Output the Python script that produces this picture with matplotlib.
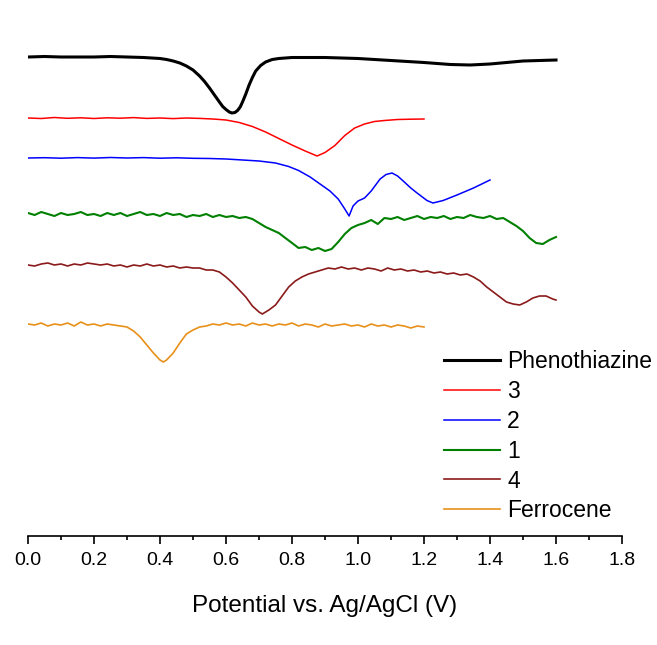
import numpy as np
import matplotlib
matplotlib.use("Agg")
import matplotlib.pyplot as plt

plt.rcParams['font.family'] = ['Liberation Sans', 'DejaVu Sans']

# ---------------- data (offset currents, arbitrary units) ----------------
pheno_v = [0.00, 0.05, 0.10, 0.15, 0.20, 0.25, 0.30, 0.35, 0.40, 0.42, 0.44, 0.46, 0.48, 0.50,
           0.52, 0.535, 0.55, 0.565, 0.58, 0.59, 0.60, 0.61, 0.618, 0.627, 0.635, 0.643, 0.65,
           0.66, 0.67, 0.68, 0.69, 0.705, 0.72, 0.74, 0.76, 0.80, 0.90, 1.00, 1.10,
           1.20, 1.28, 1.34, 1.40, 1.45, 1.50, 1.55, 1.60]
pheno_i = [-5.7, -5.65, -5.7, -5.7, -5.7, -5.65, -5.7, -5.75, -5.85, -5.95, -6.1, -6.3, -6.6, -7.0,
           -7.6, -8.15, -8.8, -9.5, -10.2, -10.65, -10.95, -11.2, -11.3, -11.25, -11.05, -10.7, -10.2,
           -9.4, -8.5, -7.75, -7.1, -6.55, -6.2, -5.95, -5.85, -5.75, -5.75, -5.85, -6.05,
           -6.25, -6.45, -6.5, -6.4, -6.25, -6.1, -6.05, -6.0]

c3_v = [0.00, 0.04, 0.08, 0.12, 0.16, 0.20, 0.24, 0.28, 0.32, 0.36, 0.40, 0.44, 0.48, 0.52,
        0.56, 0.60, 0.64, 0.68, 0.72, 0.76, 0.80, 0.84, 0.876, 0.90, 0.93, 0.96, 0.99, 1.02,
        1.05, 1.08, 1.12, 1.16, 1.20]
c3_i = [-11.8, -11.85, -11.75, -11.83, -11.78, -11.85, -11.78, -11.82, -11.76, -11.84, -11.8,
        -11.86, -11.8, -11.84, -11.9, -12.0, -12.25, -12.65, -13.2, -13.85, -14.5, -15.1, -15.6,
        -15.25, -14.55, -13.55, -12.8, -12.4, -12.15, -12.05, -11.95, -11.92, -11.9]

c2_v = [0.00, 0.05, 0.10, 0.15, 0.20, 0.25, 0.30, 0.35, 0.40, 0.45, 0.50, 0.55, 0.60, 0.65,
        0.70, 0.75, 0.79, 0.82, 0.855, 0.885, 0.915, 0.94, 0.96, 0.973, 0.985, 1.00, 1.02,
        1.04, 1.067, 1.085, 1.103, 1.12, 1.137, 1.16, 1.179, 1.209, 1.227, 1.258, 1.30, 1.35, 1.40]
c2_i = [-15.8, -15.77, -15.82, -15.76, -15.81, -15.75, -15.8, -15.76, -15.82, -15.78, -15.83,
        -15.85, -15.9, -16.0, -16.1, -16.3, -16.65, -17.05, -17.7, -18.4, -19.1, -19.9, -20.9,
        -21.6, -20.6, -20.1, -19.8, -19.1, -17.9, -17.45, -17.3, -17.6, -18.1, -18.8, -19.3,
        -20.05, -20.3, -20.05, -19.5, -18.8, -18.0]

c1_v = [0.00, 0.02, 0.04, 0.06, 0.08, 0.10, 0.12, 0.14, 0.16, 0.18, 0.20, 0.22, 0.24, 0.26,
        0.28, 0.30, 0.32, 0.34, 0.36, 0.38, 0.40, 0.42, 0.44, 0.46, 0.48, 0.50, 0.52, 0.54,
        0.56, 0.58, 0.60, 0.62, 0.64, 0.66, 0.68, 0.70, 0.72, 0.74, 0.76, 0.78, 0.80, 0.82,
        0.84, 0.86, 0.88, 0.90, 0.92, 0.94, 0.96, 0.98, 1.00, 1.02, 1.04, 1.06, 1.08, 1.10,
        1.12, 1.14, 1.16, 1.18, 1.20, 1.22, 1.24, 1.26, 1.28, 1.30, 1.32, 1.34, 1.36, 1.38,
        1.40, 1.42, 1.44, 1.46, 1.48, 1.50, 1.52, 1.54, 1.56, 1.58, 1.60]
c1_i = [-21.3, -21.5, -21.2, -21.4, -21.6, -21.3, -21.5, -21.4, -21.2, -21.5, -21.4, -21.6,
        -21.3, -21.5, -21.3, -21.6, -21.4, -21.2, -21.5, -21.4, -21.6, -21.3, -21.5, -21.4,
        -21.7, -21.5, -21.6, -21.4, -21.7, -21.5, -21.7, -21.6, -21.8, -21.7, -21.9, -22.3,
        -22.7, -23.0, -23.3, -23.8, -24.3, -24.8, -24.7, -25.0, -24.8, -25.1, -24.9, -24.2,
        -23.4, -22.8, -22.5, -22.3, -22.0, -22.4, -21.8, -21.9, -21.7, -22.0, -21.8, -21.6,
        -21.9, -21.7, -21.8, -21.6, -21.9, -21.7, -21.8, -21.5, -21.7, -21.8, -21.6, -21.9,
        -21.8, -22.2, -22.6, -23.1, -23.8, -24.3, -24.4, -24.0, -23.7]

c4_v = [0.00, 0.02, 0.04, 0.06, 0.08, 0.10, 0.12, 0.14, 0.16, 0.18, 0.20, 0.22, 0.24, 0.26,
        0.28, 0.30, 0.32, 0.34, 0.36, 0.38, 0.40, 0.42, 0.44, 0.46, 0.48, 0.50, 0.52, 0.54,
        0.56, 0.58, 0.60, 0.62, 0.64, 0.66, 0.68, 0.70, 0.71, 0.73, 0.75, 0.77, 0.79, 0.81,
        0.83, 0.85, 0.87, 0.89, 0.91, 0.93, 0.95, 0.97, 0.99, 1.01, 1.03, 1.05, 1.07, 1.09,
        1.11, 1.13, 1.15, 1.17, 1.19, 1.21, 1.23, 1.25, 1.27, 1.29, 1.31, 1.33, 1.35, 1.37,
        1.39, 1.41, 1.43, 1.45, 1.47, 1.49, 1.51, 1.53, 1.55, 1.57, 1.59, 1.60]
c4_i = [-26.5, -26.6, -26.4, -26.3, -26.5, -26.4, -26.6, -26.4, -26.5, -26.3, -26.4, -26.5,
        -26.4, -26.6, -26.5, -26.7, -26.5, -26.6, -26.4, -26.6, -26.5, -26.7, -26.6, -26.8,
        -26.7, -26.8, -26.8, -27.0, -27.0, -27.2, -27.7, -28.3, -29.0, -29.7, -30.6, -31.2,
        -31.4, -31.0, -30.5, -29.6, -28.7, -28.1, -27.7, -27.4, -27.2, -27.0, -26.8, -26.9,
        -26.7, -26.9, -26.8, -27.0, -26.8, -26.9, -27.1, -26.8, -27.0, -26.9, -27.1, -27.0,
        -27.2, -27.1, -27.3, -27.2, -27.4, -27.3, -27.5, -27.4, -27.7, -28.1, -28.7, -29.2,
        -29.7, -30.2, -30.4, -30.5, -30.2, -29.8, -29.6, -29.6, -29.9, -30.0]

fc_v = [0.00, 0.02, 0.04, 0.06, 0.08, 0.10, 0.12, 0.14, 0.16, 0.18, 0.20, 0.22, 0.24, 0.26,
        0.28, 0.30, 0.32, 0.34, 0.36, 0.38, 0.40, 0.41, 0.42, 0.44, 0.46, 0.48, 0.50, 0.52,
        0.54, 0.56, 0.58, 0.60, 0.62, 0.64, 0.66, 0.68, 0.70, 0.72, 0.74, 0.76, 0.78, 0.80,
        0.82, 0.84, 0.86, 0.88, 0.90, 0.92, 0.94, 0.96, 0.98, 1.00, 1.02, 1.04, 1.06, 1.08,
        1.10, 1.12, 1.14, 1.16, 1.18, 1.20]
fc_i = [-32.4, -32.5, -32.3, -32.6, -32.4, -32.5, -32.3, -32.6, -32.2, -32.5, -32.4, -32.6,
        -32.4, -32.5, -32.6, -32.7, -33.1, -33.7, -34.5, -35.3, -36.0, -36.2, -36.0, -35.3,
        -34.3, -33.4, -33.0, -32.7, -32.6, -32.4, -32.5, -32.3, -32.5, -32.4, -32.6, -32.3,
        -32.5, -32.4, -32.6, -32.4, -32.5, -32.3, -32.6, -32.4, -32.5, -32.7, -32.4, -32.6,
        -32.5, -32.4, -32.6, -32.5, -32.7, -32.4, -32.6, -32.5, -32.7, -32.5, -32.6, -32.8,
        -32.6, -32.7]

labels = ["Phenothiazine", "3", "2", "1", "4", "Ferrocene"]
colors = ["#000000", "#ff0000", "#0000ff", "#008000", "#8b1a1a", "#e8901a"]
widths = [2.2, 1.1, 1.1, 1.5, 1.2, 1.2]
xticks = [0.0, 0.2, 0.4, 0.6, 0.8, 1.0, 1.2, 1.4, 1.6, 1.8]
xlabel = "Potential vs. Ag/AgCl (V)"

series = [(pheno_v, pheno_i), (c3_v, c3_i), (c2_v, c2_i),
          (c1_v, c1_i), (c4_v, c4_i), (fc_v, fc_i)]

# ---------------- figure ----------------
W, H = 657, 645
fig = plt.figure(figsize=(W / 100, H / 100), dpi=100)
fig.patch.set_facecolor("white")
ax = fig.add_axes([28 / W, 1 - 536 / H, (622 - 28) / W, (536 - 36) / H])

for (v, i), lab, col, lw in zip(series, labels, colors, widths):
    ax.plot(v, i, color=col, lw=lw, label=lab, solid_joinstyle='round')

ax.set_xlim(0, 1.8)
ax.set_ylim(-53.6, -3.6)
for s in ("top", "left", "right"):
    ax.spines[s].set_visible(False)
ax.spines["bottom"].set_linewidth(1.2)
ax.set_yticks([])
ax.set_xticks(xticks)
ax.set_xticklabels([f"{t:.1f}" for t in xticks], fontsize=14)
ax.set_xticks(np.arange(0.1, 1.8, 0.2), minor=True)
ax.tick_params(axis="x", which="major", direction="out", length=5.5, width=1.2, pad=6)
ax.tick_params(axis="x", which="minor", direction="out", length=3, width=1.2)
ax.set_xlabel(xlabel, fontsize=17.5, labelpad=19)

leg = ax.legend(loc="upper left", bbox_to_anchor=(444 / W, 1 - 350 / H),
                bbox_transform=fig.transFigure, frameon=False, fontsize=16.5,
                handlelength=2.45, handletextpad=0.3, labelspacing=0.3,
                borderpad=0, borderaxespad=0)

fig.savefig("out.png", dpi=100)
